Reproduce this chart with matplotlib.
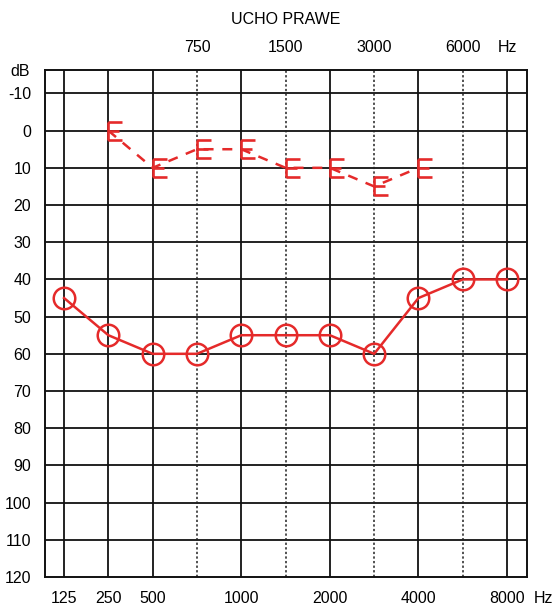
import matplotlib
matplotlib.use("Agg")
import matplotlib.pyplot as plt
from matplotlib.path import Path
import numpy as np

plt.rcParams['font.family'] = ['Liberation Sans', 'DejaVu Sans']

freqs = ["125", "250", "500", "750", "1000", "1500", "2000", "3000", "4000", "6000", "8000"]
air_db = [45, 55, 60, 60, 55, 55, 55, 60, 45, 40, 40]
bone_freqs = ["250", "500", "750", "1000", "1500", "2000", "3000", "4000"]
bone_db = [0, 10, 5, 5, 10, 10, 15, 10]
bottom_labels = ["125", "250", "500", "1000", "2000", "4000", "8000"]
top_labels = ["750", "1500", "3000", "6000", "Hz"]
db_ticks = list(range(-10, 130, 10))
title = "UCHO PRAWE"

RED = '#e52a2a'
FS = 11.5
pos = {f: i for i, f in enumerate(freqs)}

fig = plt.figure(figsize=(5.53, 6.09), dpi=100)
ax = fig.add_axes([45/553, 1-577/609, (527-45)/553, (577-70)/609])

# grid
for d in db_ticks[:-1]:
    ax.axhline(d, color='#111111', lw=1.3, zorder=1)
for f in freqs:
    if f in bottom_labels:
        ax.axvline(pos[f], color='#111111', lw=1.3, zorder=1)
    else:
        ax.axvline(pos[f], color='#222222', lw=1.1, ls=(0, (1.5, 1.5)), zorder=1)

# air conduction
ax.plot([pos[f] for f in freqs], air_db, color=RED, lw=1.8, marker='o',
        markersize=15.5, markerfacecolor='none', markeredgecolor=RED,
        markeredgewidth=1.8, zorder=3, clip_on=False)

# bone conduction, E-shaped marker
verts = [(0, -1), (0, 1), (0, 1), (1.55, 1), (0, 0), (1.2, 0), (0, -1), (1.55, -1)]
codes = [Path.MOVETO, Path.LINETO] * 4
emark = Path(verts, codes)
ax.plot([pos[f] for f in bone_freqs], bone_db, color=RED, lw=1.8,
        ls=(0, (4, 3.5)), zorder=3)
ax.plot([pos[f] for f in bone_freqs], bone_db, ls='none', marker=emark,
        markersize=20, markeredgecolor=RED, markeredgewidth=1.9,
        markerfacecolor='none', zorder=4)

ax.set_xlim(-0.43, 10.45)
ax.set_ylim(120, -16.3)

for s in ax.spines.values():
    s.set_linewidth(1.4)
    s.set_color('#111111')

ax.set_yticks(db_ticks)
ax.set_yticklabels([str(d) for d in db_ticks])
ax.tick_params(axis='y', length=0, pad=10, labelsize=FS)
ax.text(-0.43 - 15/44.3, -16.3 + 0.5, "dB", ha='right', va='center', fontsize=FS,
        clip_on=False)

ax.set_xticks([pos[f] for f in bottom_labels])
ax.set_xticklabels(bottom_labels)
ax.tick_params(axis='x', length=0, pad=10, labelsize=FS)
ax.text(10.83, 120 + 5.7, "Hz", ha='center', va='center', fontsize=FS, clip_on=False)

ax2 = ax.twiny()
ax2.set_xlim(ax.get_xlim())
ax2.set_xticks([pos[f] for f in top_labels[:-1]] + [10])
ax2.set_xticklabels(top_labels)
ax2.tick_params(axis='x', length=0, pad=11, labelsize=FS)
for s in ax2.spines.values():
    s.set_visible(False)

fig.text(286/553, 1-20/609, title, ha='center', va='center', fontsize=FS)

fig.savefig("out.png", dpi=100, facecolor='white')
